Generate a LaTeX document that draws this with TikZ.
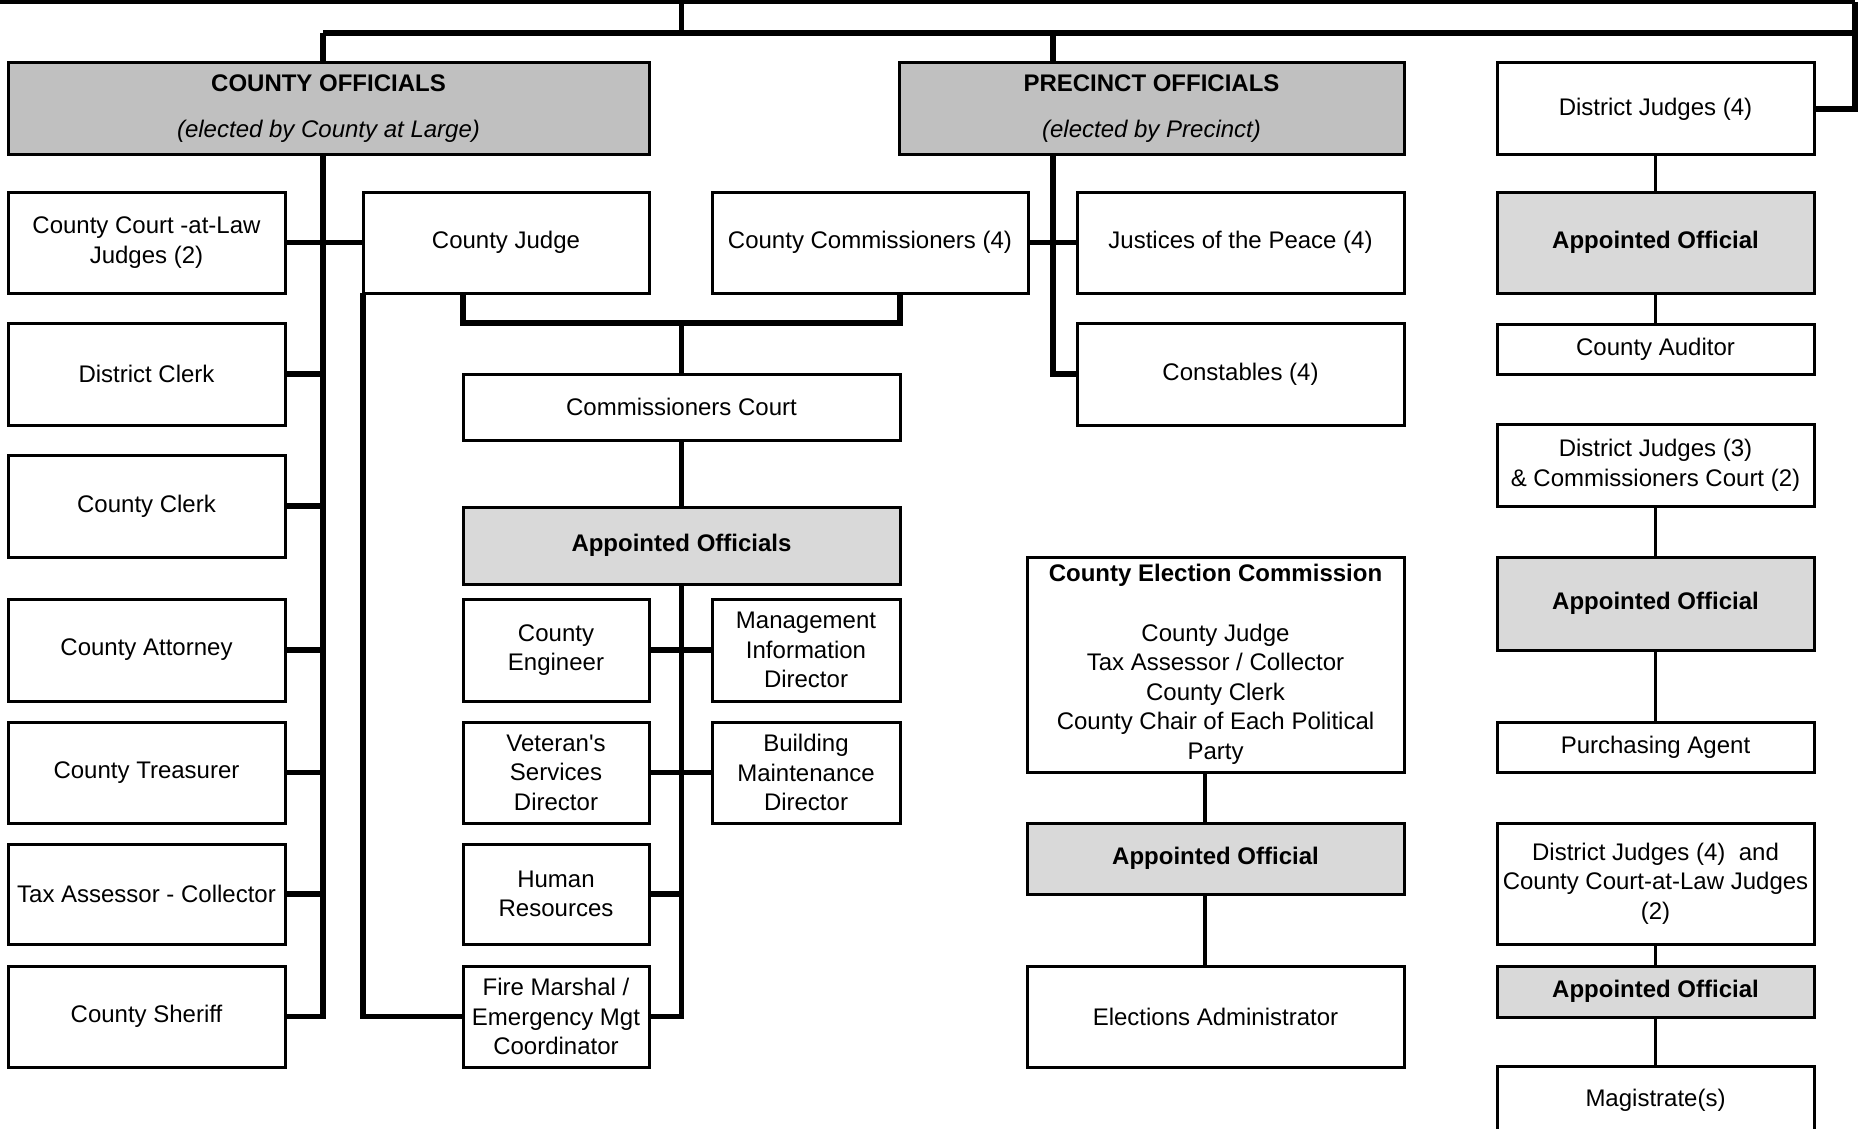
\documentclass[tikz,border=0pt]{standalone}
\usepackage{fontspec}
\setmainfont{Liberation Sans}
\definecolor{offgray}{RGB}{192,192,192}
\definecolor{apgray}{RGB}{217,217,217}
\tikzset{
  orgnode/.style={draw=black, line width=1.5pt, fill=white, inner sep=0pt, outer sep=0pt,
    align=center, font=\fontsize{12pt}{14.8pt}\selectfont},
  offbox/.style={orgnode, fill=offgray},
  apbox/.style={orgnode, fill=apgray},
  thickln/.style={line width=2.75pt, line join=miter},
  thinln/.style={line width=1.75pt},
  topln/.style={line width=2pt}
}
\newcommand{\orgbox}[7]{\node[#1, minimum width={(#5-#3)*0.5pt}, minimum height={(#6-#4)*0.5pt}] (#2) at ({(#3+#5)/2},{(#4+#6)/2}) {#7};}
\begin{document}
\begin{tikzpicture}[x=0.5pt, y=-0.5pt]
\useasboundingbox (0,0) rectangle (1858,1129);
% --- elected headers ---
\orgbox{offbox}{co}{8}{63}{649}{155}{\textbf{COUNTY OFFICIALS}\\[8.2pt]\textit{(elected by County at Large)}}
\orgbox{offbox}{po}{899}{63}{1404}{155}{\textbf{PRECINCT OFFICIALS}\\[8.2pt]\textit{(elected by Precinct)}}
% --- left column ---
\orgbox{orgnode}{ccal}{8}{192}{285}{293}{County Court -at-Law\\Judges (2)}
\orgbox{orgnode}{dclerk}{8}{323}{285}{425}{District Clerk}
\orgbox{orgnode}{cclerk}{8}{455}{285}{557}{County Clerk}
\orgbox{orgnode}{catty}{8}{599}{285}{701}{County Attorney}
\orgbox{orgnode}{ctreas}{8}{722}{285}{823}{County Treasurer}
\orgbox{orgnode}{tax}{8}{844}{285}{944}{Tax Assessor - Collector}
\orgbox{orgnode}{sheriff}{8}{966}{285}{1067}{County Sheriff}
% --- middle ---
\orgbox{orgnode}{cj}{363}{192}{649}{293}{County Judge}
\orgbox{orgnode}{ccom}{712}{192}{1028}{293}{County Commissioners (4)}
\orgbox{orgnode}{ccourt}{463}{374}{900}{440}{Commissioners Court}
\orgbox{apbox}{aos}{463}{507}{900}{584}{\textbf{Appointed Officials}}
\orgbox{orgnode}{ceng}{463}{599}{649}{701}{County\\Engineer}
\orgbox{orgnode}{mis}{712}{599}{900}{701}{Management\\Information\\Director}
\orgbox{orgnode}{vet}{463}{722}{649}{823}{Veteran\textquotesingle s\\Services\\Director}
\orgbox{orgnode}{bldg}{712}{722}{900}{823}{Building\\Maintenance\\Director}
\orgbox{orgnode}{hrs}{463}{844}{649}{944}{Human\\Resources}
\orgbox{orgnode}{fire}{463}{966}{649}{1067}{Fire Marshal /\\Emergency Mgt\\Coordinator}
% --- precinct ---
\orgbox{orgnode}{jp}{1077}{192}{1404}{293}{Justices of the Peace (4)}
\orgbox{orgnode}{const}{1077}{323}{1404}{425}{Constables (4)}
% --- election ---
\orgbox{orgnode}{cec}{1027}{557}{1404}{772}{\textbf{County Election Commission}\\[14.8pt]County Judge\\Tax Assessor / Collector\\County Clerk\\County Chair of Each Political\\Party}
\orgbox{apbox}{aol}{1027}{823}{1404}{894}{\textbf{Appointed Official}}
\orgbox{orgnode}{ea}{1027}{966}{1404}{1067}{Elections Administrator}
% --- right column ---
\orgbox{orgnode}{djf}{1497}{63}{1814}{155}{District Judges (4)}
\orgbox{apbox}{aoa}{1497}{192}{1814}{293}{\textbf{Appointed Official}}
\orgbox{orgnode}{aud}{1497}{324}{1814}{374}{County Auditor}
\orgbox{orgnode}{djt}{1497}{424}{1814}{506}{District Judges (3)\\\& Commissioners Court (2)}
\orgbox{apbox}{aob}{1497}{557}{1814}{650}{\textbf{Appointed Official}}
\orgbox{orgnode}{purch}{1497}{722}{1814}{772}{Purchasing Agent}
\orgbox{orgnode}{djc}{1497}{823}{1814}{944}{District Judges (4)\ \ and\\County Court-at-Law Judges\\(2)}
\orgbox{apbox}{aoc}{1497}{966}{1814}{1017}{\textbf{Appointed Official}}
\orgbox{orgnode}{mag}{1497}{1066}{1814}{1134}{Magistrate(s)}
% --- coordinates ---
\coordinate (tl) at (0,2.5);
\coordinate (tc) at (681.5,2.5);
\coordinate (tr) at (1855,2.5);
\coordinate (hl) at (323,33);
\coordinate (hm) at (681.5,33);
\coordinate (hp) at (1053,33);
\coordinate (hrt) at (1855,33);
\coordinate (brk) at (681.5,323);
\coordinate (cx) at (1205,0);
% --- top connectors ---
\draw[topln] (tl) -- (tr);
\draw[thickln] (tr) -- (tr |- djf.east) -- (djf.east);
\draw[thickln] (tc) -- (hm);
\draw[thickln] (hl) -- (hrt);
\draw[thickln] (hl) -- (hl |- co.north);
\draw[thickln] (hp) -- (hp |- po.north);
% --- county officials bus ---
\draw[thickln] (hl |- co.south) -- (hl |- sheriff.east) -- (sheriff.east);
\foreach \n in {dclerk,cclerk,catty,ctreas,tax}{\draw[thickln] (\n.east) -- (\n.east -| hl);}
\draw[thickln] (ccal.east) -- (cj.west);
\draw[thickln] (cj.south west) -- (cj.south west |- fire.west) -- (fire.west);
% --- commissioners court ---
\draw[thickln] (cj.south -| ccourt.south west) -- (brk -| ccourt.south west) -- (brk -| ccourt.south east) -- (ccom.south -| ccourt.south east);
\draw[thickln] (brk) -- (ccourt.north);
\draw[thickln] (ccourt.south) -- (aos.north);
\draw[thickln] (aos.south) -- (aos.south |- fire.east) -- (fire.east);
\draw[thickln] (ceng.east) -- (mis.west);
\draw[thickln] (vet.east) -- (bldg.west);
\draw[thickln] (hrs.east) -- (hrs.east -| aos.south);
% --- precinct bus ---
\draw[thickln] (hp |- po.south) -- (hp |- const.west) -- (const.west);
\draw[thickln] (ccom.east) -- (jp.west);
% --- election column ---
\draw[thinln] (cec.south -| cx) -- (aol.north -| cx);
\draw[thinln] (aol.south -| cx) -- (ea.north -| cx);
% --- right column ---
\draw[thinln] (djf.south) -- (aoa.north);
\draw[thinln] (aoa.south) -- (aud.north);
\draw[thinln] (djt.south) -- (aob.north);
\draw[thinln] (aob.south) -- (purch.north);
\draw[thinln] (djc.south) -- (aoc.north);
\draw[thinln] (aoc.south) -- (mag.north);
\end{tikzpicture}
\end{document}
